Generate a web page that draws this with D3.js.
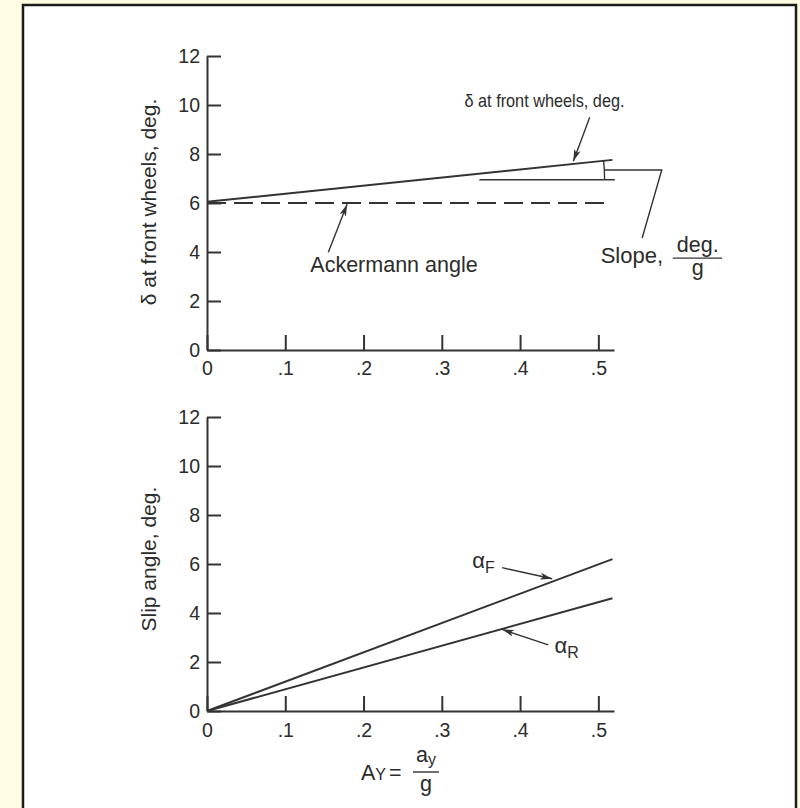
<!DOCTYPE html>
<html lang="en">
<head>
<meta charset="UTF-8">
<title>Steering angle and slip angles vs lateral acceleration</title>
<script src="https://cdn.jsdelivr.net/npm/d3@7/dist/d3.min.js"></script>
<style>
  * { margin: 0; padding: 0; box-sizing: border-box; }
  body { background: #fdfbe0; width: 800px; height: 808px; overflow: hidden; font-family: 'Liberation Sans', Arial, sans-serif; }
  svg text { fill: #2b2b2b; font-family: 'Liberation Sans', Arial, sans-serif; }
  .axis path, .axis line { stroke: #333; stroke-width: 2; }
  .curve { fill: none; stroke: #333; stroke-width: 2; }
  .thin { fill: none; stroke: #333; stroke-width: 1.4; }
</style>
</head>
<body>
<svg id="chart" width="800" height="808"></svg>
<script>
// ─── Data ───────────────────────────────────────────────────────────────────
const xTicks      = [0, 0.1, 0.2, 0.3, 0.4, 0.5];
const yTicks      = [0, 2, 4, 6, 8, 10, 12];
const ayEnds      = [0, 0.518];        // A_Y at line ends
const deltaFront  = [6.05, 7.76];      // δ at front wheels, deg.
const ackX        = [0, 0.51];
const ackermann   = [6.0, 6.0];        // Ackermann angle, deg.
const alphaF      = [0, 6.2];          // front slip angle, deg.
const alphaR      = [0, 4.6];          // rear slip angle, deg.

const svg = d3.select('#chart');

// white panel with dark frame
svg.append('rect')
  .attr('x', 23).attr('y', 5).attr('width', 773).attr('height', 830)
  .attr('fill', '#fff').attr('stroke', '#1c1c1c').attr('stroke-width', 2.5);

// ─── Scales ─────────────────────────────────────────────────────────────────
const x     = d3.scaleLinear().domain([0, 0.52]).range([207, 614]);
const yTop  = d3.scaleLinear().domain([0, 12]).range([350, 56]);
const yBot  = d3.scaleLinear().domain([0, 12]).range([711, 417]);

const fmtX = d => d === 0 ? '0' : d3.format('.1f')(d).replace(/^0/, '');

function drawAxes(y, pad) {
  svg.append('g').attr('class', 'axis')
    .attr('transform', `translate(0,${y(0)})`)
    .call(d3.axisBottom(x).tickValues(xTicks).tickFormat(fmtX)
      .tickSizeInner(-15).tickSizeOuter(0).tickPadding(pad))
    .call(g => g.selectAll('text').attr('dy', '0.74em')
      .style('font-size', '19.5px').style('fill', '#2b2b2b'));

  svg.append('g').attr('class', 'axis')
    .attr('transform', `translate(${x(0)},0)`)
    .call(d3.axisLeft(y).tickValues(yTicks)
      .tickSizeInner(-14).tickSizeOuter(0).tickPadding(7))
    .call(g => g.selectAll('text')
      .style('font-size', '19.5px').style('fill', '#2b2b2b'));
}

drawAxes(yTop, 11);
drawAxes(yBot, 12);

// arrowhead marker
svg.append('defs').append('marker')
  .attr('id', 'arrow').attr('viewBox', '0 0 12 8')
  .attr('refX', 12).attr('refY', 4)
  .attr('markerWidth', 12).attr('markerHeight', 8)
  .attr('markerUnits', 'userSpaceOnUse')
  .attr('orient', 'auto')
  .append('path').attr('d', 'M0,0.6 L12,4 L0,7.4 L3,4 Z').attr('fill', '#333');

// ─── Top chart: steer angle ─────────────────────────────────────────────────
const lineTop = d3.line().x(d => x(d[0])).y(d => yTop(d[1]));

svg.append('path').attr('class', 'curve')
  .attr('d', lineTop(d3.zip(ayEnds, deltaFront)));

svg.append('path').attr('class', 'curve')
  .attr('stroke-dasharray', '19,8')
  .attr('d', lineTop(d3.zip(ackX, ackermann)));

// slope construction: horizontal reference + arc
const refY = 6.95;
const slope = (deltaFront[1] - deltaFront[0]) / (ayEnds[1] - ayEnds[0]);
const vx = (refY - deltaFront[0]) / slope;            // where δ line crosses reference
svg.append('path').attr('class', 'thin')
  .attr('d', lineTop([[0.348, refY], [0.521, refY]]));

const cx = x(vx), cy = yTop(refY), r = x(0.508) - cx;
const ang = Math.atan2(yTop(deltaFront[0] + slope * 0.508) - cy, x(0.508) - cx);
svg.append('path').attr('class', 'thin')
  .attr('d', `M${cx + r},${cy} A${r},${r} 0 0 0 ${cx + r * Math.cos(ang)},${cy + r * Math.sin(ang)}`);

// bracket leader to "Slope" label
svg.append('path').attr('class', 'thin')
  .attr('d', lineTop([[0.508, 7.35], [0.581, 7.35], [0.556, 4.57]]));

// labels + arrows
svg.append('text').attr('x', x(0.329)).attr('y', yTop(9.9))
  .attr('font-size', 18.5).attr('textLength', 160).attr('lengthAdjust', 'spacingAndGlyphs')
  .text('δ at front wheels, deg.');
svg.append('path').attr('class', 'thin').attr('marker-end', 'url(#arrow)')
  .attr('d', lineTop([[0.489, 9.5], [0.468, 7.7]]));

svg.append('text').attr('x', x(0.132)).attr('y', yTop(3.2))
  .attr('font-size', 21.5).text('Ackermann angle');
svg.append('path').attr('class', 'thin').attr('marker-end', 'url(#arrow)')
  .attr('d', lineTop([[0.155, 3.99], [0.179, 5.95]]));

svg.append('text').attr('x', x(0.503)).attr('y', yTop(3.55))
  .attr('font-size', 22).text('Slope,');
svg.append('text').attr('x', x(0.627)).attr('y', yTop(4.0))
  .attr('text-anchor', 'middle').attr('font-size', 21.5).text('deg.');
svg.append('line').attr('class', 'thin')
  .attr('x1', x(0.595)).attr('x2', x(0.658))
  .attr('y1', yTop(3.75)).attr('y2', yTop(3.75));
svg.append('text').attr('x', x(0.627)).attr('y', yTop(3.06))
  .attr('text-anchor', 'middle').attr('font-size', 21.5).text('g');

svg.append('text')
  .attr('transform', `translate(156,${yTop(6.04)}) rotate(-90)`)
  .attr('text-anchor', 'middle').attr('font-size', 21)
  .text('δ at front wheels, deg.');

// ─── Bottom chart: slip angles ──────────────────────────────────────────────
const lineBot = d3.line().x(d => x(d[0])).y(d => yBot(d[1]));

svg.append('path').attr('class', 'curve')
  .attr('d', lineBot(d3.zip(ayEnds, alphaF)));
svg.append('path').attr('class', 'curve')
  .attr('d', lineBot(d3.zip(ayEnds, alphaR)));

const aF = svg.append('text').attr('x', x(0.339)).attr('y', yBot(5.85)).attr('font-size', 22);
aF.append('tspan').text('α');
aF.append('tspan').attr('dy', 5).attr('font-size', 16).text('F');
svg.append('path').attr('class', 'thin').attr('marker-end', 'url(#arrow)')
  .attr('d', lineBot([[0.377, 5.85], [0.441, 5.4]]));

const aR = svg.append('text').attr('x', x(0.444)).attr('y', yBot(2.36)).attr('font-size', 22);
aR.append('tspan').text('α');
aR.append('tspan').attr('dy', 5).attr('font-size', 16).text('R');
svg.append('path').attr('class', 'thin').attr('marker-end', 'url(#arrow)')
  .attr('d', lineBot([[0.436, 2.7], [0.377, 3.33]]));

svg.append('text')
  .attr('transform', `translate(156,${yBot(6.2)}) rotate(-90)`)
  .attr('text-anchor', 'middle').attr('font-size', 21)
  .text('Slip angle, deg.');

// x-axis title: A_Y = a_y / g
const xt = svg.append('text').attr('x', 361).attr('y', 780).attr('font-size', 21.5);
xt.append('tspan').text('A');
xt.append('tspan').attr('font-size', 16).text('Y');
xt.append('tspan').attr('dx', 3).text('=');
const fx = 426;
const num = svg.append('text').attr('x', fx).attr('y', 762).attr('text-anchor', 'middle').attr('font-size', 21.5);
num.append('tspan').text('a');
num.append('tspan').attr('dy', 3).attr('font-size', 16).text('y');
svg.append('line').attr('class', 'thin').attr('x1', fx - 13).attr('x2', fx + 13).attr('y1', 772).attr('y2', 772);
svg.append('text').attr('x', fx).attr('y', 791).attr('text-anchor', 'middle').attr('font-size', 21.5).text('g');
</script>
</body>
</html>
